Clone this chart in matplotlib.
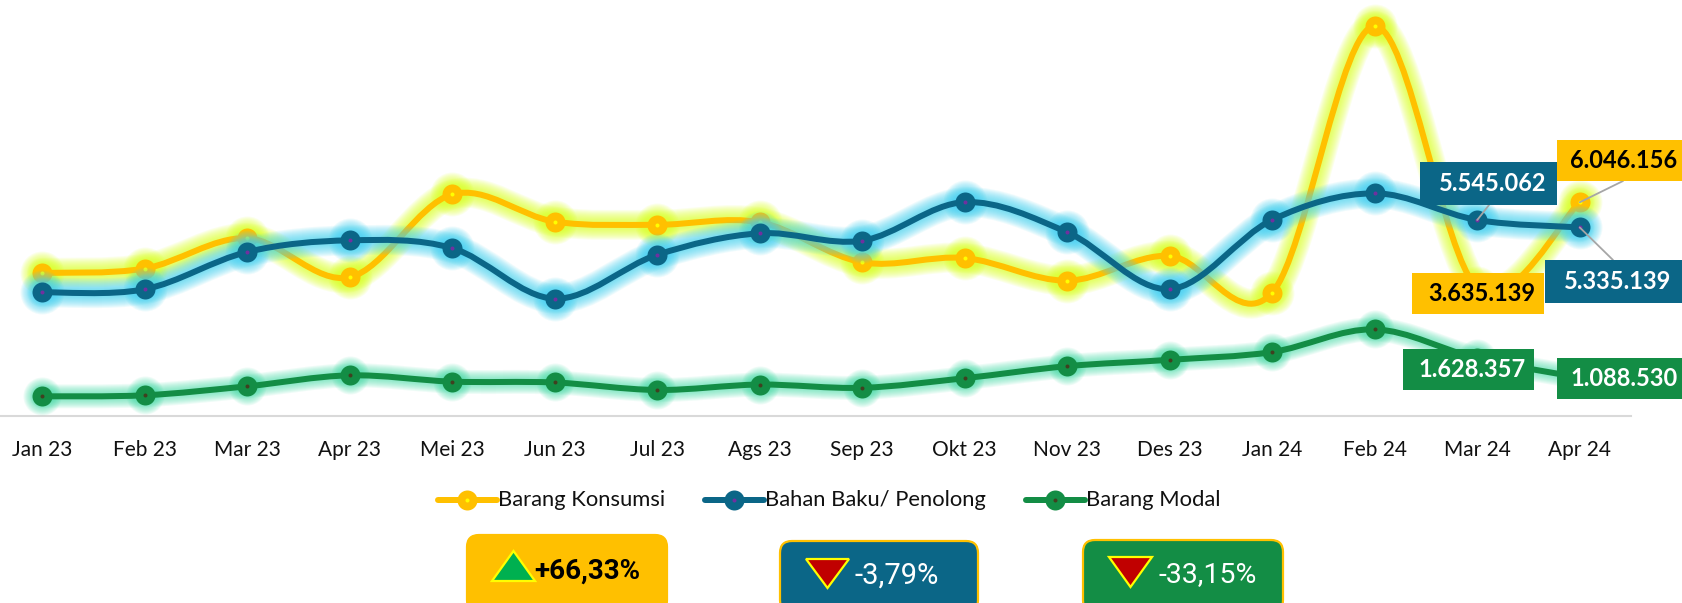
import matplotlib
matplotlib.use('Agg')
import matplotlib.pyplot as plt
from matplotlib.path import Path
from matplotlib.patches import PathPatch, FancyBboxPatch, Rectangle, Polygon
import numpy as np

plt.rcParams['font.family'] = ['Lato', 'DejaVu Sans']

months = ['Jan 23', 'Feb 23', 'Mar 23', 'Apr 23', 'Mei 23', 'Jun 23', 'Jul 23', 'Ags 23',
          'Sep 23', 'Okt 23', 'Nov 23', 'Des 23', 'Jan 24', 'Feb 24', 'Mar 24', 'Apr 24']

konsumsi = [4047000, 4171000, 5030000, 3925000, 6270000, 5500000, 5410000, 5480000,
            4350000, 4470000, 3830000, 4530000, 3490000, 11030000, 3635139, 6046156]
bahan = [3500000, 3585000, 4640000, 4970000, 4750000, 3320000, 4560000, 5170000,
         4960000, 6050000, 5200000, 3590000, 5550000, 6300000, 5545062, 5335139]
modal = [557000, 586000, 840000, 1150000, 973000, 948000, 736000, 889000,
         798000, 1070000, 1410000, 1590000, 1810000, 2450000, 1628357, 1088530]

YELLOW = '#FFC000'
BLUE = '#0B6687'
GREEN = '#138D45'

W, H = 1683, 603
px = 72 / 100  # one pixel in points

fig = plt.figure(figsize=(W / 100, H / 100), dpi=100)
ax = fig.add_axes([0, (H - 416) / H, 1631 / W, 416 / H])
ax.set_xlim(-0.41, 15.5)
ax.set_ylim(0, 11.77e6)
ax.patch.set_alpha(0)

# overlay in picture pixels for the boxes and the legend
ov = fig.add_axes([0, 0, 1, 1], zorder=5)
ov.set_xlim(0, W)
ov.set_ylim(H, 0)
ov.axis('off')


def smooth_path(xs, ys):
    # same kind of smoothing excel uses for a smoothed line
    verts = [(xs[0], ys[0])]
    codes = [Path.MOVETO]
    n = len(xs)
    for i in range(n - 1):
        a, b = max(i - 1, 0), min(i + 2, n - 1)
        verts.append((xs[i] + (xs[i + 1] - xs[a]) / 6, ys[i] + (ys[i + 1] - ys[a]) / 6))
        verts.append((xs[i + 1] - (xs[b] - xs[i]) / 6, ys[i + 1] - (ys[b] - ys[i]) / 6))
        verts.append((xs[i + 1], ys[i + 1]))
        codes += [Path.CURVE4] * 3
    return Path(verts, codes)


def draw_series(vals, color, glow, dot, z, spread=30):
    xs = np.arange(len(vals))
    path = smooth_path(xs, vals)
    for w in range(spread, 6, -2):
        ax.add_patch(PathPatch(path, fc='none', ec=glow, lw=w * px, alpha=0.085,
                               capstyle='round', zorder=z, clip_on=False))
        ax.plot(xs, vals, 'o', ms=(w + 14) * px, mfc=glow, mec='none', alpha=0.085,
                zorder=z, clip_on=False)
    ax.add_patch(PathPatch(path, fc='none', ec=color, lw=6 * px, zorder=z + 1,
                           capstyle='round', clip_on=False))
    ax.plot(xs, vals, 'o', ms=20 * px, mfc=color, mec='none', zorder=z + 2, clip_on=False)
    ax.plot(xs, vals, 'o', ms=4 * px, mfc=dot, mec='none', zorder=z + 3, clip_on=False)


draw_series(konsumsi, YELLOW, '#DDFF22', '#FFFF00', 2)
draw_series(bahan, BLUE, '#45D4F2', '#7030A0', 6)
draw_series(modal, GREEN, '#45DDA8', '#404020', 10, spread=24)

ax.set_xticks(range(len(months)))
ax.set_xticklabels(months, fontsize=15, color='#111111')
ax.tick_params(axis='x', length=0, pad=17)
ax.set_yticks([])
for s in ['top', 'left', 'right']:
    ax.spines[s].set_visible(False)
ax.spines['bottom'].set_color('#D9D9D9')
ax.spines['bottom'].set_linewidth(1.5)
ax.spines['bottom'].set_zorder(1)

# data labels: series, index, text, box (x0, y0, x1, y1), leader end, colours
labels = [
    (konsumsi, 15, '6.046.156', (1557, 140, 1683, 181), (1623, 181), YELLOW, 'black'),
    (bahan, 14, '5.545.062', (1420, 162, 1557, 205), (1489, 205), BLUE, 'white'),
    (konsumsi, 14, '3.635.139', (1412, 273, 1544, 314), None, YELLOW, 'black'),
    (bahan, 15, '5.335.139', (1545, 260, 1682, 303), (1613, 260), BLUE, 'white'),
    (modal, 14, '1.628.357', (1403, 349, 1534, 390), None, GREEN, 'white'),
    (modal, 15, '1.088.530', (1557, 358, 1683, 399), None, GREEN, 'white'),
]
for vals, i, txt, box, end, col, tc in labels:
    x0, y0, x1, y1 = box
    ov.add_patch(Rectangle((x0, y0), x1 - x0, y1 - y0, fc=col, ec='none', zorder=3))
    ov.text((x0 + x1) / 2 + 4, (y0 + y1) / 2, txt, color=tc, fontsize=17, fontweight='bold',
            ha='center', va='center', zorder=4)
    if end is not None:
        ax.annotate('', xy=(i, vals[i]), xycoords='data', xytext=end, textcoords=ov.transData,
                    arrowprops=dict(arrowstyle='-', color='#A6A6A6', lw=1.3, shrinkA=0, shrinkB=0),
                    zorder=20)

# legend
legend_items = [('Barang Konsumsi', YELLOW, '#FFFF00', 438),
                ('Bahan Baku/ Penolong', BLUE, '#7030A0', 705),
                ('Barang Modal', GREEN, '#404020', 1026)]
for name, col, dot, x0 in legend_items:
    ov.plot([x0, x0 + 59], [500, 500], color=col, lw=6 * px, solid_capstyle='round')
    ov.plot([x0 + 29.5], [500], 'o', ms=20 * px, mfc=col, mec='none')
    ov.plot([x0 + 29.5], [500], 'o', ms=4 * px, mfc=dot, mec='none')
    ov.text(x0 + 60, 500, name, fontsize=15.8, color='#111111', va='center', ha='left')

# kpi boxes: box, fill, edge, triangle, text
NARROW = ['Liberation Sans Narrow', 'Roboto', 'DejaVu Sans']
kpis = [
    ((467, 535, 667, 612), YELLOW, YELLOW, 'up', (492, 535, 551, 581), '#00B050', '+66,33%', (534, 571), 'black', 'bold', 20),
    ((780, 541, 978, 612), BLUE, YELLOW, 'down', (806, 849, 559, 588), '#C00000', '-3,79%', (855, 576), 'white', 'normal', 21),
    ((1083, 540, 1283, 612), GREEN, YELLOW, 'down', (1109, 1152, 557, 587), '#C00000', '-33,15%', (1159, 575), 'white', 'normal', 20.5),
]
for box, fill, edge, kind, tri, tcol, txt, tpos, tc, wt, size in kpis:
    x0, y0, x1, y1 = box
    ov.add_patch(FancyBboxPatch((x0 + 12, y0 + 12), x1 - x0 - 24, y1 - y0 - 24,
                                boxstyle='round,pad=12,rounding_size=12',
                                fc=fill, ec=edge, lw=1.6, zorder=3))
    xa, xb, ya, yb = tri
    if kind == 'up':
        pts = [(xa, yb), (xb, yb), ((xa + xb) / 2, ya)]
    else:
        pts = [(xa, ya), (xb, ya), ((xa + xb) / 2, yb)]
    ov.add_patch(Polygon(pts, closed=True, fc=tcol, ec='#FFFF00', lw=1.6, zorder=4))
    ov.text(tpos[0], tpos[1], txt, family=NARROW, fontsize=size, color=tc, fontweight=wt,
            ha='left', va='center', zorder=4)

fig.savefig('out.png', dpi=100)
